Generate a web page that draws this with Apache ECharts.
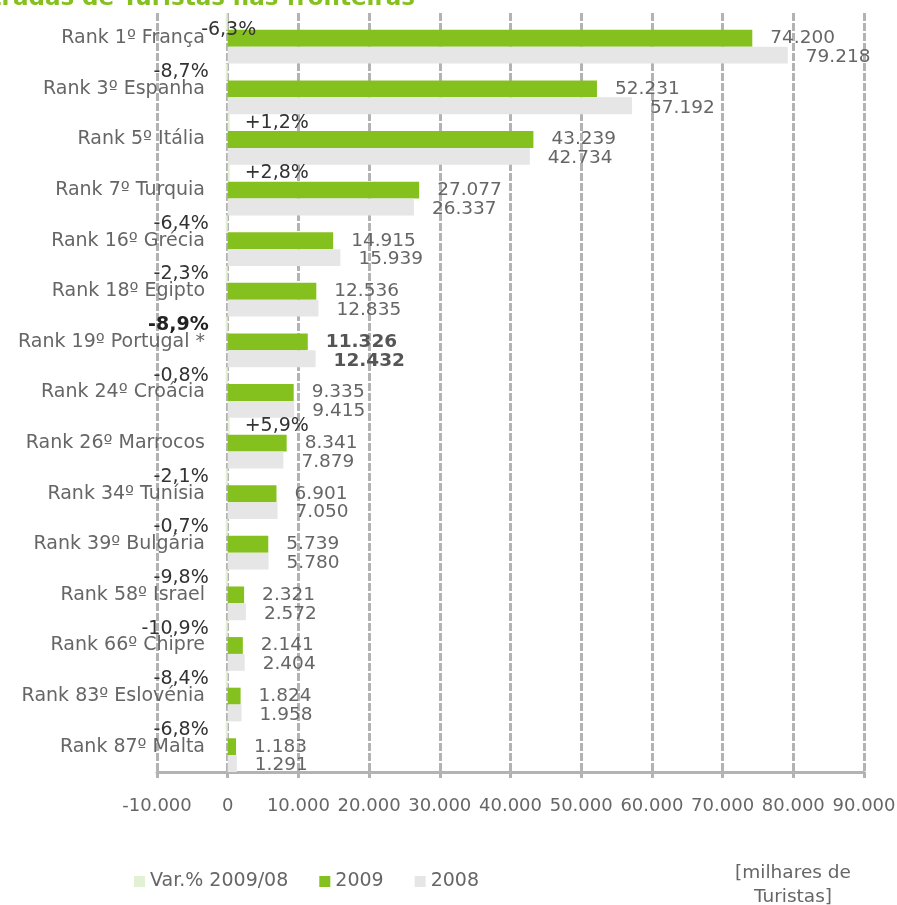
<!DOCTYPE html>
<html>
<head>
<meta charset="utf-8">
<script src="https://cdn.jsdelivr.net/npm/echarts@6/dist/echarts.min.js"></script>
<style>
  html, body { margin: 0; padding: 0; background: #fff; }
  #main { width: 897px; height: 905px; }
</style>
</head>
<body>
<div id="main"></div>
<script>
var myChart = echarts.init(document.getElementById('main'));

// dados
var categories = ['Rank 1º França', 'Rank 3º Espanha', 'Rank 5º Itália', 'Rank 7º Turquia',
    'Rank 16º Grécia', 'Rank 18º Egipto', 'Rank 19º Portugal *', 'Rank 24º Croácia',
    'Rank 26º Marrocos', 'Rank 34º Tunísia', 'Rank 39º Bulgária', 'Rank 58º Israel',
    'Rank 66º Chipre', 'Rank 83º Eslovénia', 'Rank 87º Malta'];
var varPct = [-6.3, -8.7, 1.2, 2.8, -6.4, -2.3, -8.9, -0.8, 5.9, -2.1, -0.7, -9.8, -10.9, -8.4, -6.8];
var y2009 = [74200, 52231, 43239, 27077, 14915, 12536, 11326, 9335, 8341, 6901, 5739, 2321, 2141, 1824, 1183];
var y2008 = [79218, 57192, 42734, 26337, 15939, 12835, 12432, 9415, 7879, 7050, 5780, 2572, 2404, 1958, 1291];
var xTicks = [-10000, 90000, 10000]; // min, max, intervalo

var boldIndex = 6; // Portugal
var font = 'DejaVu Sans';
var txt = '#666666';

function fmt(v) {
    return String(v).replace(/\B(?=(\d{3})+(?!\d))/g, '.');
}
function fmtPct(v) {
    return (v > 0 ? '+' : '') + v.toFixed(1).replace('.', ',') + '%';
}

var varData = varPct.map(function (v, i) {
    var item = {
        value: v,
        label: {
            position: v < 0 ? 'left' : 'right',
            distance: v < 0 ? 17 : 15
        }
    };
    if (i === 0) {
        item.label = { position: 'inside', offset: [2, 9] };
    }
    if (i === boldIndex) {
        item.label.fontWeight = 'bold';
        item.label.color = '#222';
    }
    return item;
});

function valData(arr) {
    return arr.map(function (v, i) {
        if (i === boldIndex) {
            return { value: v, label: { fontWeight: 'bold', color: '#555' } };
        }
        return v;
    });
}

var option = {
    animation: false,
    textStyle: { fontFamily: font },
    grid: {
        left: 157,
        right: 33,
        top: 13,
        bottom: 133,
        containLabel: false,
        outerBoundsMode: 'none'
    },
    legend: {
        data: ['Var.% 2009/08', '2009', '2008'],
        left: 129,
        top: 867,
        itemWidth: 11,
        itemHeight: 11,
        itemGap: 31,
        icon: 'rect',
        textStyle: { fontFamily: font, fontSize: 19, color: txt }
    },
    graphic: [
        {
            type: 'text',
            x: 415,
            y: -1,
            style: {
                text: 'Entradas de Turistas nas fronteiras',
                align: 'right',
                verticalAlign: 'middle',
                fontFamily: font,
                fontSize: 23,
                fontWeight: 'bold',
                fill: '#85C11E'
            }
        },
        {
            type: 'text',
            x: 793,
            y: 885,
            style: {
                text: '[milhares de\nTuristas]',
                align: 'center',
                verticalAlign: 'middle',
                lineHeight: 24,
                fontFamily: font,
                fontSize: 18.5,
                fill: txt
            }
        }
    ],
    xAxis: {
        type: 'value',
        min: xTicks[0],
        max: xTicks[1],
        interval: xTicks[2],
        axisLine: { show: true, lineStyle: { color: '#B3B3B3', width: 3 } },
        axisTick: { show: true, length: 6, lineStyle: { color: '#B3B3B3', width: 3 } },
        splitLine: { show: true, lineStyle: { color: '#B3B3B3', width: 3, type: [8, 2] } },
        axisLabel: {
            margin: 25,
            fontFamily: font,
            fontSize: 18,
            color: txt,
            formatter: function (v) { return fmt(v); }
        }
    },
    yAxis: {
        type: 'category',
        inverse: true,
        data: categories,
        axisLine: { show: false },
        axisTick: { show: false },
        axisLabel: {
            // rótulos encostados ao zero (eixo cruza em 0)
            margin: -48,
            fontFamily: font,
            fontSize: 19,
            color: txt
        }
    },
    series: [
        {
            name: 'Var.% 2009/08',
            type: 'bar',
            barGap: '0%',
            barCategoryGap: '0%',
            barMinHeight: 2,
            itemStyle: { color: '#E2F0D3' },
            label: {
                show: true,
                fontFamily: font,
                fontSize: 19,
                color: '#333',
                formatter: function (p) { return fmtPct(p.value); }
            },
            data: varData
        },
        {
            name: '2009',
            type: 'bar',
            barGap: '0%',
            barCategoryGap: '0%',
            itemStyle: { color: '#85C11E' },
            label: {
                show: true,
                position: 'right',
                distance: 18,
                fontFamily: font,
                fontSize: 18.5,
                color: txt,
                formatter: function (p) { return fmt(p.value); }
            },
            data: valData(y2009)
        },
        {
            name: '2008',
            type: 'bar',
            barGap: '0%',
            barCategoryGap: '0%',
            itemStyle: { color: '#E6E6E6' },
            label: {
                show: true,
                position: 'right',
                distance: 18,
                offset: [0, 2],
                fontFamily: font,
                fontSize: 18.5,
                color: txt,
                formatter: function (p) { return fmt(p.value); }
            },
            data: valData(y2008)
        }
    ]
};

myChart.setOption(option);
</script>
</body>
</html>
